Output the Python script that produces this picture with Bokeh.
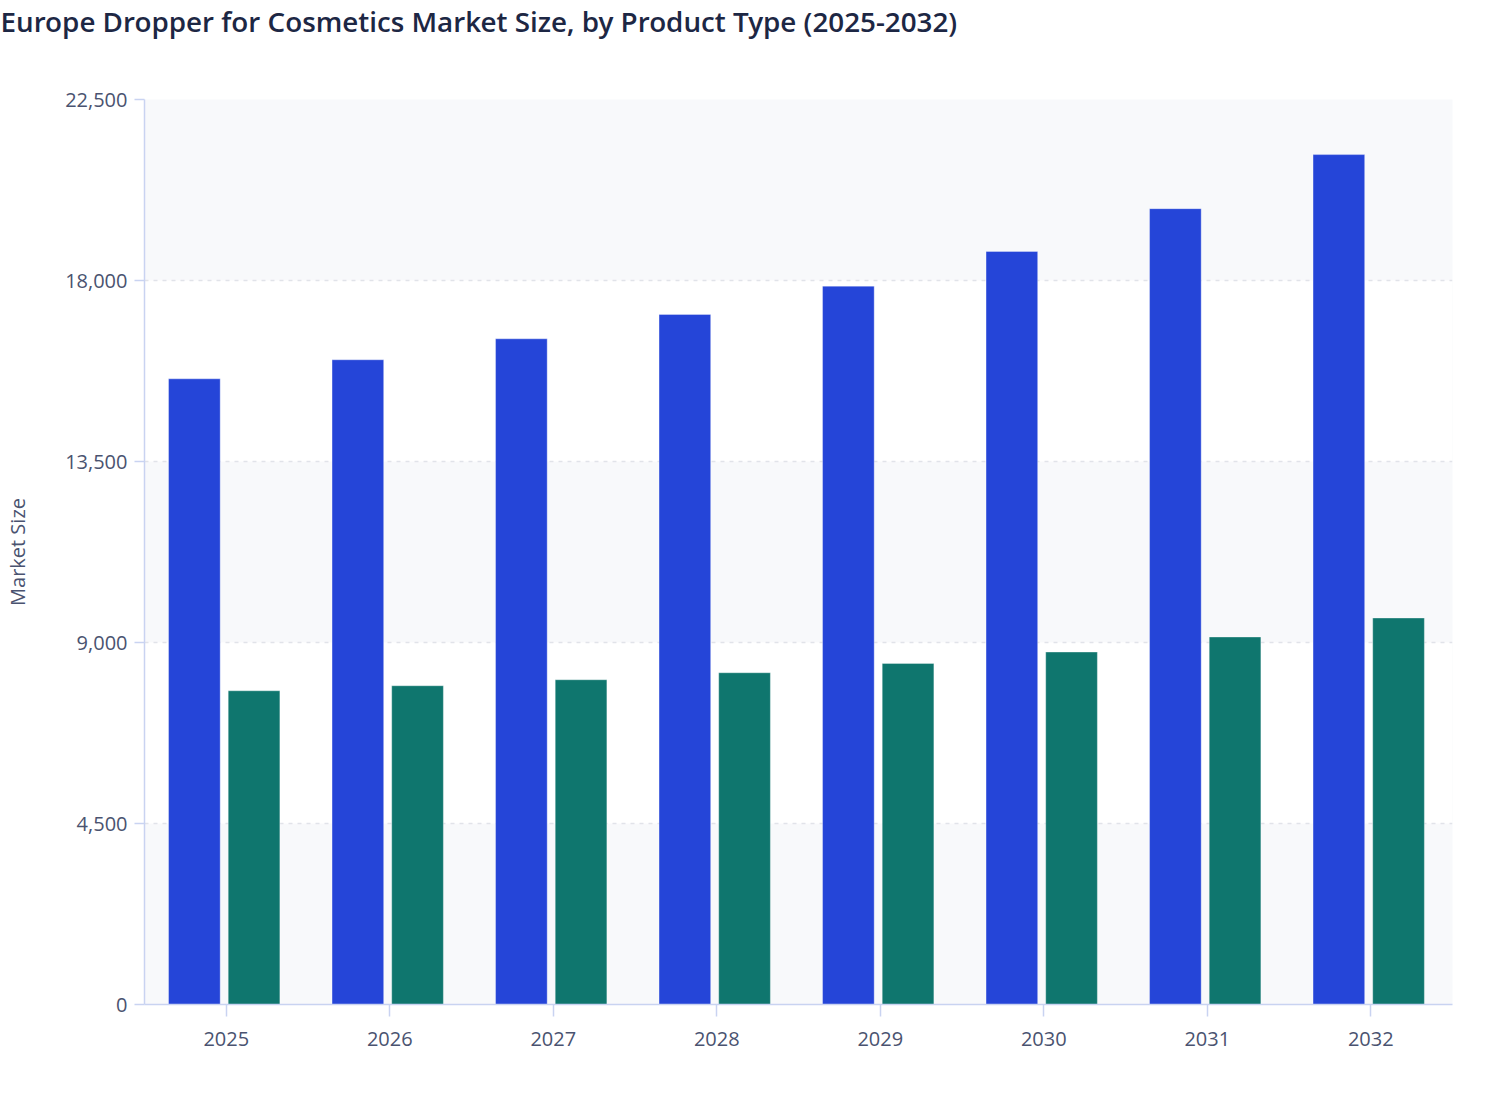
from bokeh.plotting import figure
from bokeh.models import ColumnDataSource, FactorRange, Range1d, FixedTicker, NumeralTickFormatter, Title
from bokeh.transform import dodge
from bokeh.embed import file_html
from bokeh.resources import INLINE

years = ["2025", "2026", "2027", "2028", "2029", "2030", "2031", "2032"]
series_a = [15556, 16029, 16551, 17156, 17860, 18723, 19786, 21130]
series_b = [7800, 7925, 8074, 8248, 8480, 8763, 9137, 9609]
y_ticks = [0, 4500, 9000, 13500, 18000, 22500]

title_text = "Europe Dropper for Cosmetics Market Size, by Product Type (2025-2032)"
FONT = "Open Sans"
TEXT = "#4a5370"
AXIS = "#c9d3f1"

src = ColumnDataSource(dict(year=years, a=series_a, b=series_b))

p = figure(
    x_range=FactorRange(*years),
    y_range=Range1d(0, 22500),
    width=1500, height=1100,
    output_backend="svg", toolbar_location=None,
    min_border_left=144, min_border_right=48,
    min_border_top=99, min_border_bottom=96,
)

# empty spacer between the title and the plot frame
spacer = Title(text=" ", text_font_size="10px", standoff=50)
p.add_layout(spacer, "above")

p.title.text = title_text
p.title.text_font = "Open Sans SemiBold"
p.title.text_font_size = "27.8px"
p.title.text_font_style = "normal"
p.title.text_color = "#1d2744"
p.title.align = "left"
p.title.offset = -144
p.title.standoff = -6

p.vbar(x=dodge("year", -0.195, range=p.x_range), top="a", width=0.316, source=src,
       fill_color="#2545D8", line_color="white", line_alpha=0.35, line_width=1)
p.vbar(x=dodge("year", 0.17, range=p.x_range), top="b", width=0.316, source=src,
       fill_color="#0F766E", line_color="white", line_alpha=0.35, line_width=1)

p.outline_line_color = None
p.background_fill_color = "#f8f9fb"
p.border_fill_color = "white"

p.xgrid.grid_line_color = None
p.ygrid.grid_line_color = "#e1e3e9"
p.ygrid.grid_line_dash = "4 5"
p.ygrid.grid_line_width = 1.5
p.ygrid.band_fill_color = "white"
p.ygrid.band_fill_alpha = 1.0

p.yaxis.ticker = FixedTicker(ticks=y_ticks)
p.yaxis.formatter = NumeralTickFormatter(format="0,0")
p.yaxis.axis_label = "Market Size"
p.yaxis.axis_label_text_font = FONT
p.yaxis.axis_label_text_font_size = "20px"
p.yaxis.axis_label_text_font_style = "normal"
p.yaxis.axis_label_text_color = TEXT
p.yaxis.axis_label_standoff = 31

for ax in (p.xaxis[0], p.yaxis[0]):
    ax.axis_line_color = AXIS
    ax.axis_line_width = 1.5
    ax.major_tick_line_color = AXIS
    ax.major_tick_line_width = 1.5
    ax.major_tick_in = 0
    ax.minor_tick_line_color = None
    ax.major_label_text_font = FONT
    ax.major_label_text_font_size = "20px"
    ax.major_label_text_color = TEXT

p.yaxis.major_tick_out = 10
p.yaxis.major_label_standoff = 7
p.xaxis.major_tick_out = 12
p.xaxis.major_label_standoff = 15
p.x_range.range_padding = 0
p.x_range.group_padding = 0

open("out.html", "w").write(file_html(p, INLINE))
